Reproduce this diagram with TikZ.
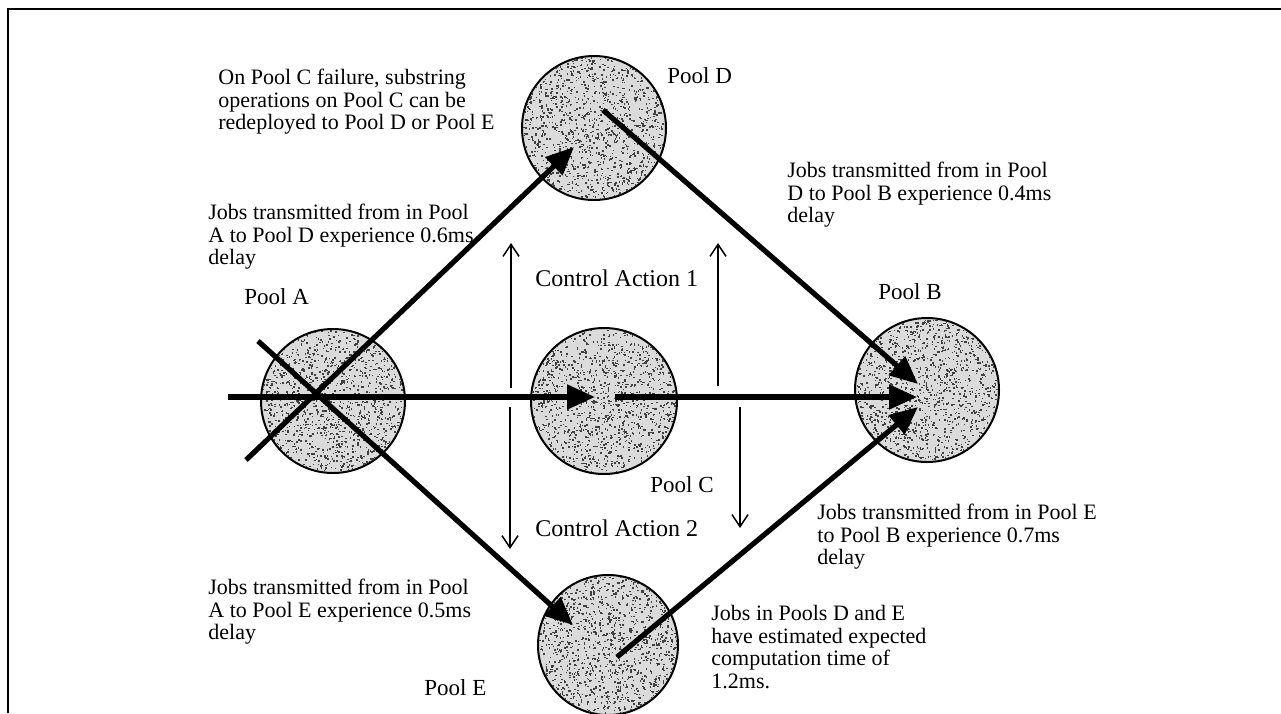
\documentclass[tikz,border=0pt]{standalone}
\usepackage{fontspec}
\setmainfont{Liberation Serif}
\usetikzlibrary{arrows.meta,calc}
\begin{document}
\begin{tikzpicture}[x=0.5pt,y=-0.5pt,
  pool/.style={circle,draw,line width=1pt,fill=black!14,inner sep=0pt},
  grain/.style={fill=black!75},
  flow/.style={line width=2.6pt,-{Triangle[length=14pt,width=12pt]}},
  ctrl/.style={line width=0.75pt,-{Straight Barb[length=6pt,width=8pt,line width=0.75pt]}},
  note/.style={anchor=north west,inner sep=0pt,align=left,font=\fontsize{11}{11.25}\selectfont},
  poollabel/.style={anchor=north west,inner sep=0pt,font=\fontsize{11.5}{13}\selectfont},
  action/.style={anchor=north west,inner sep=0pt,font=\fontsize{12}{14}\selectfont}]
\useasboundingbox (0,0) rectangle (1281,713);

% frame (top and left edges)
\coordinate (fbl) at (8,713);
\coordinate (ftl) at (8,9);
\coordinate (ftr) at (1281,9);
\draw[line width=1pt] (fbl) -- (ftl) -- (ftr);

% pools
\node[pool,minimum size=72pt] (A) at (333,401) {};
\node[pool,minimum size=73pt] (C) at (604,401) {};
\node[pool,minimum size=72pt] (D) at (594,128) {};
\node[pool,minimum size=72pt] (B) at (927,390) {};
\node[pool,minimum size=70pt] (E) at (608,645) {};

% stippled shading inside each pool
\pgfmathsetseed{42}
\foreach \n/\r in {A/71,C/72,D/71,B/71,E/69}{
  \begin{scope}
    \clip (\n) circle[radius=\r];
    \foreach \k in {1,...,1500}{
      \pgfmathsetmacro\dx{\r*rand}
      \pgfmathsetmacro\dy{\r*rand}
      \fill[grain] ($(\n)+(\dx,\dy)$) rectangle ++(1.5,1.5);
    }
  \end{scope}
}

% arrow ends inside the pools
\coordinate (inA) at (228,397);
\coordinate (tipC) at (595,397);
\coordinate (outC) at (615,397);
\coordinate (tipBm) at (917,397);
\coordinate (xA1) at (246,460);
\coordinate (tipD) at (574,147);
\coordinate (xA2) at (258,341);
\coordinate (tipE) at (573,625);
\coordinate (outD) at (603,110);
\coordinate (tipBu) at (918,384);
\coordinate (outE) at (617,657);
\coordinate (tipBl) at (918,407);

% job flows
\draw[flow] (inA) -- (tipC);
\draw[flow] (outC) -- (tipBm);
\draw[flow] (xA1) -- (tipD);
\draw[flow] (xA2) -- (tipE);
\draw[flow] (outD) -- (tipBu);
\draw[flow] (outE) -- (tipBl);

% control actions
\coordinate (cu1s) at (511,388);
\coordinate (cu1e) at (511,243);
\coordinate (cu2s) at (718,386);
\coordinate (cu2e) at (718,243);
\coordinate (cd1s) at (510,407);
\coordinate (cd1e) at (510,549);
\coordinate (cd2s) at (740,407);
\coordinate (cd2e) at (740,528);
\draw[ctrl] (cu1s) -- (cu1e);
\draw[ctrl] (cu2s) -- (cu2e);
\draw[ctrl] (cd1s) -- (cd1e);
\draw[ctrl] (cd2s) -- (cd2e);

% labels
\node[poollabel] (lA) at (244,288) {Pool A};
\node[poollabel] (lB) at (878,283) {Pool B};
\node[poollabel] (lC) at (650,476) {Pool C};
\node[poollabel] (lD) at (667,67) {Pool D};
\node[poollabel] (lE) at (424,679) {Pool E};
\node[action] (ca1) at (535,269) {Control Action 1};
\node[action] (ca2) at (535,519) {Control Action 2};

% annotations
\node[note] (n1) at (218,69) {On Pool C failure, substring\\operations on Pool C can be\\redeployed to Pool D or Pool E};
\node[note] (n2) at (208,204) {Jobs transmitted from in Pool\\A to Pool D experience 0.6ms\\delay};
\node[note] (n3) at (787,162) {Jobs transmitted from in Pool\\D to Pool B experience 0.4ms\\delay};
\node[note] (n4) at (817,504) {Jobs transmitted from in Pool E\\to Pool B experience 0.7ms\\delay};
\node[note] (n5) at (208,579) {Jobs transmitted from in Pool\\A to Pool E experience 0.5ms\\delay};
\node[note] (n6) at (711,605) {Jobs in Pools D and E\\have estimated expected\\computation time of\\1.2ms.};
\end{tikzpicture}
\end{document}
